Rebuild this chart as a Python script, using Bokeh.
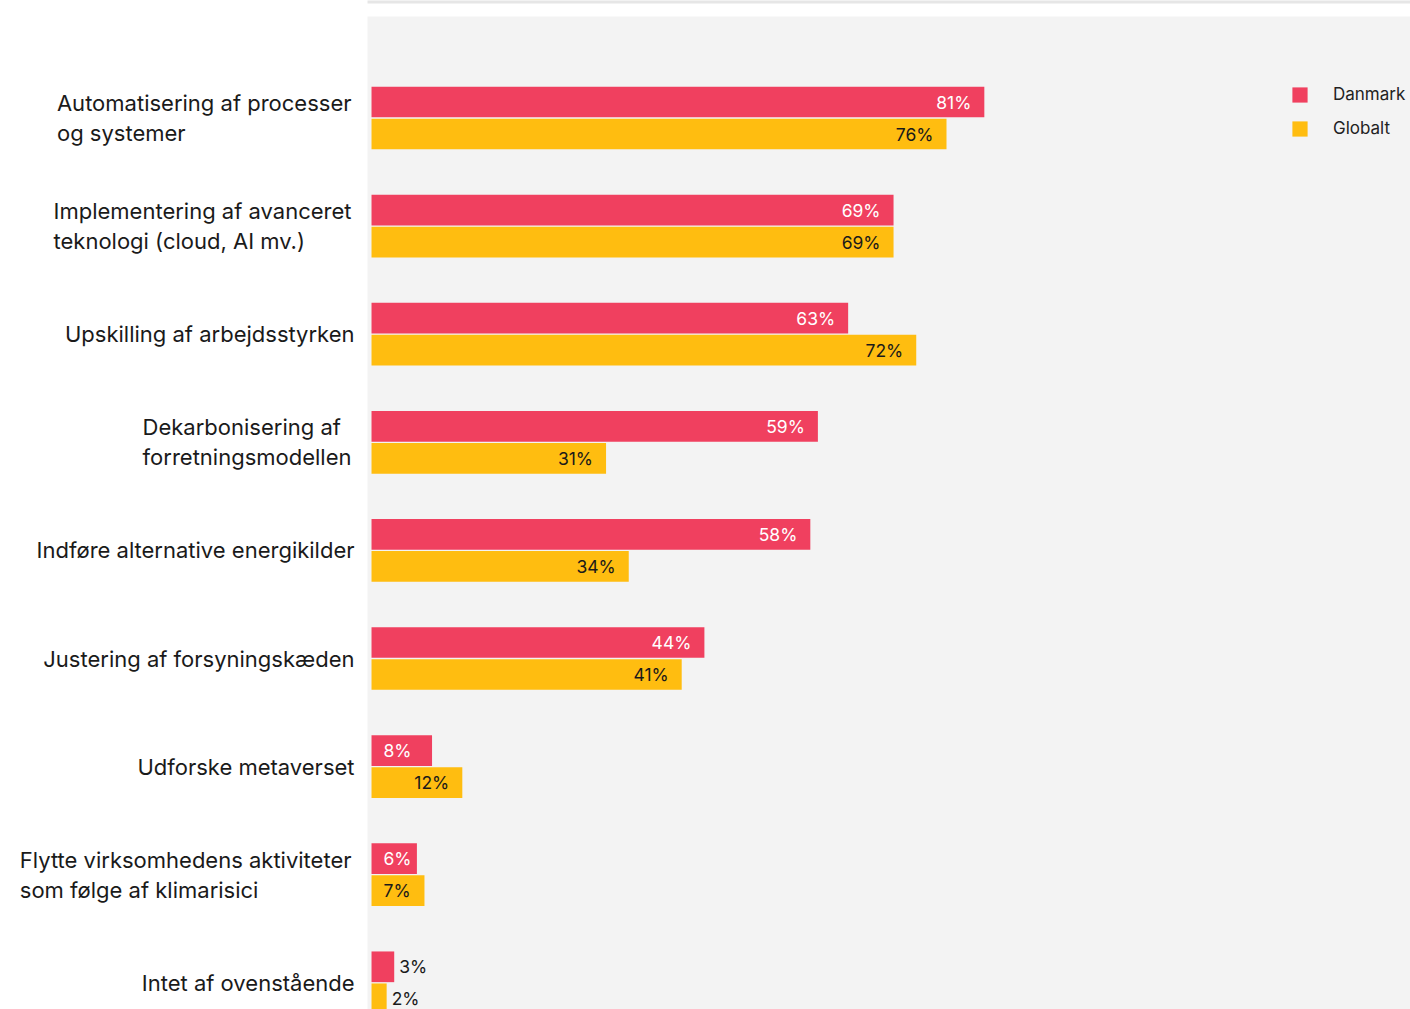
from bokeh.plotting import figure
from bokeh.models import Range1d, Legend, LegendItem, ColumnDataSource
from bokeh.core.properties import value
from bokeh.embed import file_html
from bokeh.resources import INLINE

categories = [
    "Automatisering af processer\nog systemer",
    "Implementering af avanceret\nteknologi (cloud, AI mv.)",
    "Upskilling af arbejdsstyrken",
    "Dekarbonisering af\nforretningsmodellen",
    "Indføre alternative energikilder",
    "Justering af forsyningskæden",
    "Udforske metaverset",
    "Flytte virksomhedens aktiviteter\nsom følge af klimarisici",
    "Intet af ovenstående",
]
danmark = [81, 69, 63, 59, 58, 44, 8, 6, 3]
globalt = [76, 69, 72, 31, 34, 41, 12, 7, 2]
series = ["Danmark", "Globalt"]

RED = "#f0405f"
YEL = "#ffbd10"
DARK = "#1a1a1a"
FONT = "Inter"

rows = list(range(len(categories)))
OFF = 0.148
H = 0.284

p = figure(width=1410, height=1009, output_backend="svg", toolbar_location=None,
           x_range=Range1d(-49.04, 137.33), y_range=Range1d(8.247, -1.087),
           min_border=0, min_border_left=0, min_border_right=0,
           min_border_top=0, min_border_bottom=0)
p.axis.visible = False
p.grid.visible = False
p.outline_line_color = None
p.background_fill_color = "white"
p.border_fill_color = "white"

# grey panel and top strip
p.quad(left=[-0.529], right=[300], top=[-0.939], bottom=[30],
       fill_color="#f3f3f3", line_color=None)
p.quad(left=[-0.529], right=[300], top=[-1.2], bottom=[-1.059],
       fill_color="#e6e6e6", line_color=None)

yd = [r - OFF for r in rows]
yg = [r + OFF for r in rows]
rd = p.hbar(y=yd, left=0, right=danmark, height=H, fill_color=RED, line_color=None)
rg = p.hbar(y=yg, left=0, right=globalt, height=H, fill_color=YEL, line_color=None)


def labels(vals, ys, inside_color):
    xs, offs, aligns, cols, txt = [], [], [], [], []
    for v, y in zip(vals, ys):
        txt.append(f"{v}%")
        if v >= 10:
            xs.append(v); offs.append(-13); aligns.append("right"); cols.append(inside_color)
        elif v >= 5:
            xs.append(0); offs.append(12); aligns.append("left"); cols.append(inside_color)
        else:
            xs.append(v); offs.append(5); aligns.append("left"); cols.append(DARK)
    return ColumnDataSource(dict(x=xs, y=ys, off=offs, align=aligns, col=cols, t=txt))


for vals, ys, c in ((danmark, yd, "white"), (globalt, yg, DARK)):
    src = labels(vals, ys, c)
    p.text(x="x", y="y", text="t", x_offset="off", text_align="align", text_color="col",
           text_baseline="middle", text_font=value(FONT), text_font_size="17.5px", source=src)

# category labels
coffs = [-20 if "\n" in c else -17 for c in categories]
csrc = ColumnDataSource(dict(x=[0] * len(rows), y=rows, t=categories, off=coffs))
p.text(x="x", y="y", text="t", x_offset="off", anchor="center_right", text_align="left",
       text_baseline="middle", text_font=value(FONT), text_font_size="22px",
       text_line_height=1.145, text_color=DARK, source=csrc)

legend = Legend(items=[LegendItem(label=series[0], renderers=[rd]),
                       LegendItem(label=series[1], renderers=[rg])],
                location=(1290, 871), orientation="vertical",
                glyph_width=19, glyph_height=19, label_height=19, spacing=14,
                padding=0, margin=0, label_standoff=24,
                label_text_font=FONT, label_text_font_size="17px", label_text_color="#222222",
                border_line_color=None, background_fill_alpha=0)
p.add_layout(legend)

open("out.html", "w").write(file_html(p, INLINE))
